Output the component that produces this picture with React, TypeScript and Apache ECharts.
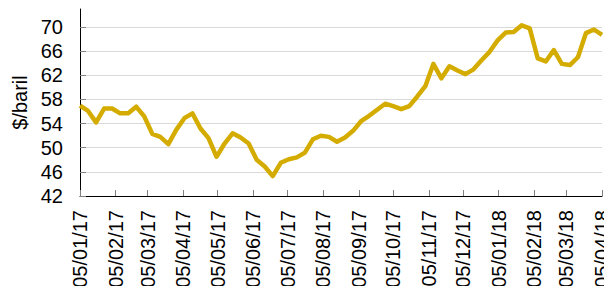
import React, { useEffect, useRef } from "react";
import * as echarts from "echarts";

// Weekly observations (Thursdays) starting 05/01/2017
const startDate = [2017, 0, 5];
const endDate = [2018, 3, 5];
const prices = [
  57.0, 56.1, 54.2, 56.5, 56.5, 55.7, 55.7, 56.8, 55.2, 52.3,
  51.8, 50.6, 53.0, 54.9, 55.7, 53.2, 51.6, 48.5, 50.7, 52.4,
  51.7, 50.7, 48.0, 46.9, 45.3, 47.5, 48.1, 48.4, 49.2, 51.4,
  52.0, 51.8, 51.0, 51.7, 52.8, 54.4, 55.3, 56.3, 57.3, 56.9,
  56.4, 56.9, 58.5, 60.2, 63.9, 61.5, 63.5, 62.8, 62.2, 63.0,
  64.5, 65.9, 67.8, 69.1, 69.2, 70.3, 69.8, 64.8, 64.3, 66.2,
  63.9, 63.7, 65.0, 69.0, 69.6, 68.7,
];
// Tick label dates: the 5th of each month
const tickLabels = [
  "05/01/17", "05/02/17", "05/03/17", "05/04/17", "05/05/17", "05/06/17",
  "05/07/17", "05/08/17", "05/09/17", "05/10/17", "05/11/17", "05/12/17",
  "05/01/18", "05/02/18", "05/03/18", "05/04/18",
];
const yName = "$/baril";

const toTs = (s: string) => {
  const [d, m, y] = s.split("/").map(Number);
  return new Date(2000 + y, m - 1, d).getTime();
};
const pad = (n: number) => (n < 10 ? "0" + n : "" + n);
const fmt = (v: number) => {
  const d = new Date(v);
  return pad(d.getDate()) + "/" + pad(d.getMonth() + 1) + "/" + pad(d.getFullYear() % 100);
};

export default function App() {
  const ref = useRef<HTMLDivElement>(null);
  useEffect(() => {
    if (!ref.current) return;
    const chart = echarts.init(ref.current, undefined, { renderer: "svg" });
    const start = new Date(startDate[0], startDate[1], startDate[2]).getTime();
    const end = new Date(endDate[0], endDate[1], endDate[2]).getTime();
    const data = prices.map((p, i) => {
      const d = new Date(startDate[0], startDate[1], startDate[2] + 7 * i);
      return [d.getTime(), p];
    });
    const tickVals = tickLabels.map(toTs);
    const font = "'Liberation Sans', Arial, sans-serif";
    chart.setOption({
      animation: false,
      grid: { left: 80, right: 7, top: 9, bottom: 98, containLabel: false },
      xAxis: {
        type: "value",
        min: start,
        max: end,
        axisLine: { show: true, lineStyle: { color: "#000", width: 1 } },
        axisTick: {
          show: true,
          inside: true,
          length: 6,
          customValues: tickVals,
          lineStyle: { color: "#808080" },
        },
        axisLabel: {
          customValues: tickVals,
          rotate: 90,
          margin: 14,
          fontSize: 20,
          color: "#000",
          fontFamily: font,
          formatter: (v: number) => fmt(v),
          padding: [6, 0, 0, 0],
        },
        splitLine: { show: false },
      },
      yAxis: {
        type: "value",
        min: 42,
        max: 73,
        interval: 4,
        name: yName,
        nameLocation: "middle",
        nameGap: 48,
        nameTextStyle: { fontSize: 20, color: "#000", fontFamily: font },
        axisLine: { show: true, lineStyle: { color: "#000", width: 1 } },
        axisTick: { show: true, inside: true, length: 6, lineStyle: { color: "#808080" } },
        axisLabel: {
          fontSize: 20,
          color: "#000",
          fontFamily: font,
          margin: 17,
          showMaxLabel: false,
        },
        splitLine: {
          show: true,
          lineStyle: {
            color: [
              "#d9d9d9", "#d9d9d9", "#d9d9d9", "#d9d9d9", "#d9d9d9",
              "#d9d9d9", "#d9d9d9", "#d9d9d9", "rgba(0,0,0,0)",
            ],
            width: 1,
          },
        },
      },
      series: [
        {
          type: "line",
          data,
          showSymbol: false,
          symbol: "none",
          lineStyle: { color: "#D4AC00", width: 4.5, join: "round" },
        },
      ],
    });
    return () => chart.dispose();
  }, []);
  return <div ref={ref} style={{ width: 612, height: 294, margin: -8 }} />;
}
